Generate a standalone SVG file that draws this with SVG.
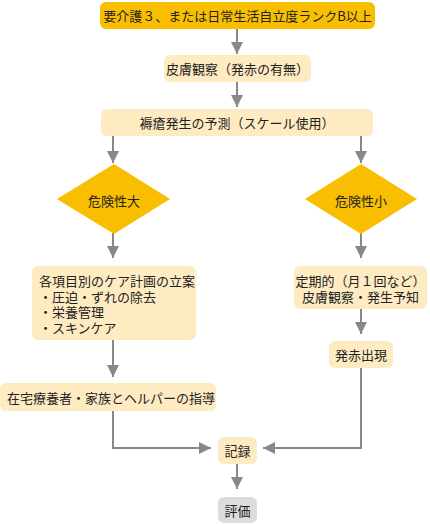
<svg xmlns="http://www.w3.org/2000/svg" width="430" height="524" viewBox="0 0 430 524">
<style>
text{font-family:"Noto Sans CJK JP","Noto Sans",sans-serif;font-size:13px;fill:#222;dominant-baseline:central}
.c{text-anchor:middle}
.gold{fill:#F9BE00}
.light{fill:#FEEBC1}
.gray{fill:#DCDCDC}
.ln{fill:none;stroke:#888;stroke-width:2}
</style>
<defs>
<marker id="ah" markerUnits="userSpaceOnUse" markerWidth="12" markerHeight="12" viewBox="0 0 10 10" refX="10" refY="5" orient="auto">
<path d="M0,0 L10,5 L0,10 z" fill="#888"/>
</marker>
</defs>
<rect width="430" height="524" fill="#fff"/>
<g id="connectors">
<line class="ln" x1="237" y1="29" x2="237" y2="54" marker-end="url(#ah)"/>
<line class="ln" x1="237" y1="82" x2="237" y2="107" marker-end="url(#ah)"/>
<line class="ln" x1="113" y1="136" x2="113" y2="163" marker-end="url(#ah)"/>
<line class="ln" x1="361" y1="136" x2="361" y2="163" marker-end="url(#ah)"/>
<line class="ln" x1="113" y1="233" x2="113" y2="258" marker-end="url(#ah)"/>
<line class="ln" x1="361" y1="233" x2="361" y2="258" marker-end="url(#ah)"/>
<line class="ln" x1="113" y1="340" x2="113" y2="377" marker-end="url(#ah)"/>
<line class="ln" x1="361" y1="309" x2="361" y2="334" marker-end="url(#ah)"/>
<polyline class="ln" points="113,411 113,448 211,448" marker-end="url(#ah)"/>
<polyline class="ln" points="361,368 361,448 263,448" marker-end="url(#ah)"/>
<line class="ln" x1="237" y1="464" x2="237" y2="489" marker-end="url(#ah)"/>
</g>
<g id="n1"><rect class="gold" x="100" y="2" width="275" height="27" rx="6"/><text class="c" x="237.5" y="15.5">要介護３、または日常生活自立度ランクB以上</text></g>
<g id="n2"><rect class="light" x="164" y="55" width="147" height="27" rx="6"/><text class="c" x="237.5" y="68.5">皮膚観察（発赤の有無）</text></g>
<g id="n3"><rect class="light" x="101" y="109" width="272" height="27" rx="6"/><text class="c" x="237" y="122.5">褥瘡発生の予測（スケール使用）</text></g>
<g id="n4"><polygon class="gold" points="57,199 114,164 170,199 114,234"/><text class="c" x="114" y="200">危険性大</text></g>
<g id="n5"><polygon class="gold" points="305,199 361,164 417,199 361,234"/><text class="c" x="361" y="200">危険性小</text></g>
<g id="n6"><rect class="light" x="32" y="266" width="164" height="74" rx="6"/>
<text x="39" y="280.5">各項目別のケア計画の立案</text>
<text x="39" y="296">・圧迫・ずれの除去</text>
<text x="39" y="311.5">・栄養管理</text>
<text x="39" y="327">・スキンケア</text></g>
<g id="n7"><rect class="light" x="294" y="266" width="133" height="43" rx="6"/>
<text class="c" x="360.5" y="280.5">定期的（月１回など）</text>
<text class="c" x="360.5" y="296">皮膚観察・発生予知</text></g>
<g id="n8"><rect class="light" x="329" y="341" width="64" height="27" rx="6"/><text class="c" x="361" y="354.5">発赤出現</text></g>
<g id="n9"><rect class="light" x="0" y="383" width="216" height="28" rx="6"/><text x="7" y="397">在宅療養者・家族とヘルパーの指導</text></g>
<g id="n10"><rect class="light" x="218" y="437" width="39" height="27" rx="6"/><text class="c" x="237.5" y="450.5">記録</text></g>
<g id="n11"><rect class="gray" x="218" y="497" width="39" height="26" rx="6"/><text class="c" x="237.5" y="510">評価</text></g>
</svg>
